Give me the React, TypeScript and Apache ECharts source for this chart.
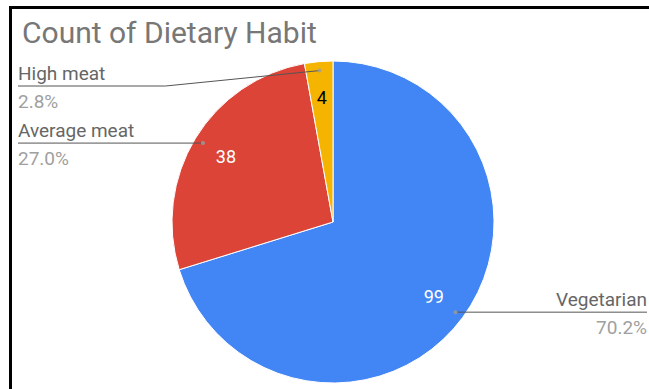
import React, { useEffect, useRef } from "react";
import * as echarts from "echarts";

const categories = ["Vegetarian", "Average meat", "High meat"];
const counts = [99, 38, 4];
const sliceColors = ["#4285F4", "#DB4437", "#F4B400"];
const valueLabelColors = ["#ffffff", "#ffffff", "#000000"];
const titleText = "Count of Dietary Habit";

const W = 649;
const H = 389;
const PIE_CX = 333;
const PIE_CY = 222;
const PIE_R = 161;
const INNER_LABEL_SCALE = 1.5;
const LINE_INSET = 9;
const LABEL_LEFT_X = 18;
const LABEL_RIGHT_X = 647;
const LABEL_MIN_Y = 86;
const NAME_LINE_H = 25;
const PCT_LINE_H = 30;
const FONT = "Roboto";

export default function App() {
  const ref = useRef<HTMLDivElement>(null);

  useEffect(() => {
    if (!ref.current) return;
    const chart = echarts.init(ref.current, null, { renderer: "svg" });
    const total = counts.reduce((a, b) => a + b, 0);

    const pieData = categories.map((name, i) => ({
      name,
      value: counts[i],
      itemStyle: { color: sliceColors[i] },
      label: { color: valueLabelColors[i] },
    }));

    const outerData = categories.map((name, i) => ({
      name,
      value: counts[i],
    }));

    // dots at label line starts, placed through a polar coordinate system
    let cum = 0;
    const dotData = counts.map((v) => {
      const mid = cum + v / 2;
      cum += v;
      return [0.945, mid];
    });

    const option: any = {
      animation: false,
      backgroundColor: "#ffffff",
      title: {
        text: titleText,
        left: 17,
        top: 12,
        textStyle: {
          fontFamily: FONT,
          fontSize: 30,
          fontWeight: "normal",
          color: "#777777",
        },
      },
      polar: { center: [PIE_CX, PIE_CY], radius: PIE_R },
      angleAxis: {
        type: "value",
        min: 0,
        max: total,
        startAngle: 90,
        clockwise: true,
        show: false,
      },
      radiusAxis: { type: "value", min: 0, max: 1, show: false },
      graphic: [
        {
          type: "rect",
          shape: { x: 9, y: 6, width: W - 9, height: 3 },
          style: { fill: "#000000" },
          silent: true,
        },
        {
          type: "rect",
          shape: { x: 9, y: 6, width: 3, height: H - 6 },
          style: { fill: "#000000" },
          silent: true,
        },
      ],
      series: [
        {
          type: "pie",
          center: [PIE_CX, PIE_CY],
          radius: PIE_R,
          startAngle: 90,
          clockwise: true,
          z: 2,
          silent: true,
          avoidLabelOverlap: false,
          itemStyle: { borderColor: "#ffffff", borderWidth: 1 },
          label: {
            show: true,
            position: "inside",
            formatter: "{c}",
            fontFamily: FONT,
            fontSize: 18,
          },
          labelLine: { show: false },
          labelLayout: (p: any) => {
            const r = p.labelRect;
            const lx = r.x + r.width / 2;
            const ly = r.y + r.height / 2;
            return {
              x: PIE_CX + (lx - PIE_CX) * INNER_LABEL_SCALE,
              y: PIE_CY + (ly - PIE_CY) * INNER_LABEL_SCALE,
              align: "center",
              verticalAlign: "middle",
            };
          },
          data: pieData,
        },
        {
          type: "pie",
          center: [PIE_CX, PIE_CY],
          radius: PIE_R,
          startAngle: 90,
          clockwise: true,
          z: 3,
          silent: true,
          avoidLabelOverlap: false,
          percentPrecision: 1,
          itemStyle: { color: "rgba(0,0,0,0)", borderWidth: 0 },
          label: {
            show: true,
            position: "outside",
            formatter: (p: any) =>
              `{name|${p.name}}\n{pct|${Number(p.percent).toFixed(1)}%}`,
            rich: {
              name: {
                fontFamily: FONT,
                fontSize: 19,
                color: "#666666",
                lineHeight: NAME_LINE_H,
              },
              pct: {
                fontFamily: FONT,
                fontSize: 19,
                color: "#a0a0a0",
                lineHeight: PCT_LINE_H,
              },
            },
          },
          labelLine: {
            show: true,
            length: 10,
            length2: 10,
            lineStyle: { color: "#555555", width: 1 },
          },
          labelLayout: (p: any) => {
            const pts = p.labelLinePoints;
            if (!pts) return {};
            const p0 = pts[0];
            const p1 = pts[1];
            const dx = p1[0] - p0[0];
            const dy = p1[1] - p0[1];
            const len = Math.hypot(dx, dy) || 1;
            const sx = p0[0] - (dx / len) * LINE_INSET;
            const sy = p0[1] - (dy / len) * LINE_INSET;
            const left = sx < PIE_CX;
            const lineY = Math.max(sy, LABEL_MIN_Y);
            const edgeX = left ? LABEL_LEFT_X : LABEL_RIGHT_X;
            const bendX = sx + (left ? -1 : 1) * (lineY - sy) * 10;
            return {
              x: edgeX,
              y: lineY - NAME_LINE_H,
              align: left ? "left" : "right",
              verticalAlign: "top",
              labelLinePoints: [
                [sx, sy],
                [bendX, lineY],
                [edgeX, lineY],
              ],
            };
          },
          data: outerData,
        },
        {
          type: "scatter",
          coordinateSystem: "polar",
          symbol: "circle",
          symbolSize: 4,
          z: 4,
          silent: true,
          itemStyle: { color: "#9e9e9e" },
          data: dotData,
        },
      ],
    };

    chart.setOption(option);
    return () => chart.dispose();
  }, []);

  return (
    <div
      ref={ref}
      style={{
        position: "fixed",
        left: 0,
        top: 0,
        width: W,
        height: H,
        background: "#ffffff",
      }}
    />
  );
}
